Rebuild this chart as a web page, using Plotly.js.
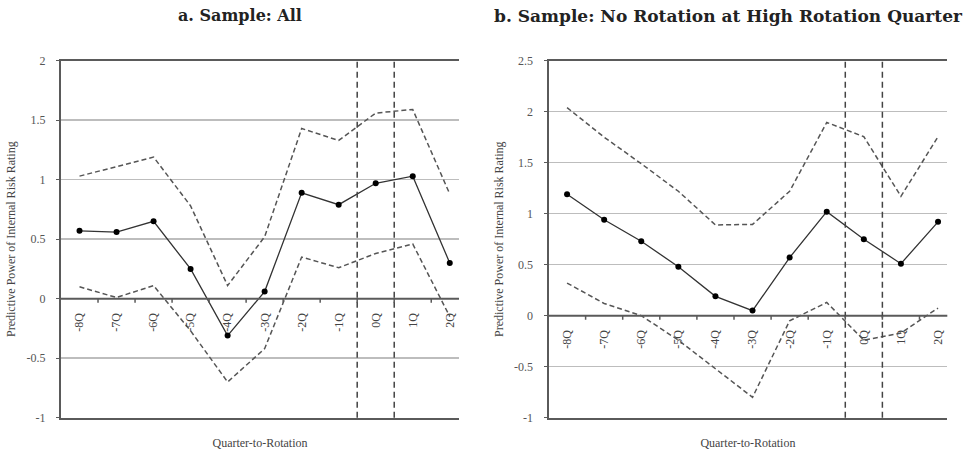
<!DOCTYPE html>
<html>
<head>
<meta charset="utf-8">
<script src="https://cdn.plot.ly/plotly-3.0.1.min.js"></script>
<style>html,body{margin:0;padding:0;background:#fff;}#chart{width:976px;height:455px;}</style>
</head>
<body>
<div id="chart"></div>
<script>
// ---- data ----
const categories = ['-8Q','-7Q','-6Q','-5Q','-4Q','-3Q','-2Q','-1Q','0Q','1Q','2Q'];
const rotationQuarter = '0Q';

const allEstimate = [0.57, 0.56, 0.65, 0.25, -0.31, 0.06, 0.89, 0.79, 0.97, 1.03, 0.30];
const allUpper    = [1.03, 1.11, 1.19, 0.78, 0.11, 0.52, 1.43, 1.33, 1.56, 1.59, 0.88];
const allLower    = [0.10, 0.01, 0.11, -0.27, -0.70, -0.42, 0.35, 0.26, 0.38, 0.46, -0.15];

const noRotEstimate = [1.19, 0.94, 0.73, 0.48, 0.19, 0.05, 0.57, 1.02, 0.75, 0.51, 0.92];
const noRotUpper    = [2.04, 1.75, 1.49, 1.22, 0.89, 0.895, 1.22, 1.895, 1.755, 1.17, 1.755];
const noRotLower    = [0.32, 0.12, 0.00, -0.24, -0.52, -0.80, -0.05, 0.13, -0.24, -0.17, 0.075];

const yTicksA = [-1, -0.5, 0, 0.5, 1, 1.5, 2];
const yTickTextA = ['-1', '-0.5', '0', '0.5', '1', '1.5', '2'];
const yTicksB = [-1, -0.5, 0, 0.5, 1, 1.5, 2, 2.5];
const yTickTextB = ['-1', '-0.5', '0', '0.5', '1', '1.5', '2', '2.5'];

const titleA = 'a. Sample: All';
const titleB = 'b. Sample: No Rotation at High Rotation Quarter';
const xTitle = 'Quarter-to-Rotation';
const yTitle = 'Predictive Power of Internal Risk Rating';

// ---- styles ----
const serif = 'Liberation Serif, Times New Roman, serif';
const axisCol = '#5a5a5a';
const gridCol = '#bdbdbd';
const bandStyle = {color: '#555', width: 1.5, dash: '5px,3px'};
const estStyle = {color: '#333', width: 1.3};
const markerStyle = {color: '#000', size: 6};

const xDomA = [0.0625, 0.4703];
const xDomB = [0.562, 0.9706];
const yDom = [0.082, 0.8666];
const xRange = [-0.5, 10.25];

function mkTraces(est, up, lo, xa, ya) {
  return [
    {x: categories, y: up, xaxis: xa, yaxis: ya, type: 'scatter', mode: 'lines', line: bandStyle, hoverinfo: 'skip'},
    {x: categories, y: lo, xaxis: xa, yaxis: ya, type: 'scatter', mode: 'lines', line: bandStyle, hoverinfo: 'skip'},
    {x: categories, y: est, xaxis: xa, yaxis: ya, type: 'scatter', mode: 'lines+markers', line: estStyle, marker: markerStyle}
  ];
}

// empty helper traces so the overlay (zero-line label) axes get registered
const axisHolders = [
  {x: [], y: [], xaxis: 'x3', yaxis: 'y', type: 'scatter', mode: 'none', hoverinfo: 'skip'},
  {x: [], y: [], xaxis: 'x4', yaxis: 'y2', type: 'scatter', mode: 'none', hoverinfo: 'skip'}
];

const data = [].concat(
  axisHolders,
  mkTraces(allEstimate, allUpper, allLower, 'x', 'y'),
  mkTraces(noRotEstimate, noRotUpper, noRotLower, 'x2', 'y2')
);

const catIdx = categories.map((c, i) => i);
const boundaries = categories.slice(1).map((c, i) => i + 0.5);
const rIdx = categories.indexOf(rotationQuarter);

function mainX(dom, ya) {
  return {
    domain: dom, anchor: ya, type: 'category', categoryorder: 'array', categoryarray: categories,
    range: xRange, showline: true, mirror: true, linecolor: axisCol, linewidth: 2,
    showgrid: false, showticklabels: false, ticks: '', zeroline: false,
    title: {text: xTitle, font: {family: serif, size: 12, color: '#444'}, standoff: 20},
    automargin: false
  };
}
function zeroPos(yRange) {
  const frac = (0 - yRange[0]) / (yRange[1] - yRange[0]);
  return yDom[0] + (yDom[1] - yDom[0]) * frac;
}
// overlay axis on the zero line carrying the quarter labels
function labelX(dom, overlay, yRange) {
  return {
    domain: dom, overlaying: overlay, anchor: 'free', position: zeroPos(yRange), side: 'bottom',
    type: 'linear', range: xRange, tickmode: 'array', tickvals: catIdx, ticktext: categories,
    tickangle: -90, ticks: '', showline: false,
    showgrid: false, zeroline: false, ticklabelstandoff: 11,
    tickfont: {family: serif, size: 12, color: '#444'}, automargin: false
  };
}
function mainY(xa, range, tv, tt) {
  return {
    domain: yDom, anchor: xa, range: range, tickmode: 'array', tickvals: tv, ticktext: tt,
    showgrid: true, gridcolor: gridCol, gridwidth: 1.5, zeroline: false,
    showline: true, linecolor: axisCol, linewidth: 2, ticks: 'outside', ticklen: 3, tickcolor: axisCol,
    ticklabelstandoff: 8,
    tickfont: {family: serif, size: 12, color: '#555'},
    title: {text: yTitle, font: {family: serif, size: 12, color: '#444'}, standoff: 8},
    automargin: false
  };
}

const yRangeA = [-1, 2];
const yRangeB = [-1, 2.5];

const vline = (xref, yref, xv) => ({type: 'line', xref: xref, yref: yref + ' domain', x0: xv, x1: xv, y0: 0, y1: 1,
  line: {color: '#444', width: 1.5, dash: '6px,4px'}});
const zeroLine = (xref, yref) => ({type: 'line', xref: xref + ' domain', yref: yref, x0: 0, x1: 1, y0: 0, y1: 0,
  layer: 'above', line: {color: axisCol, width: 2}});
const boundaryTick = (xref, yref, xv) => ({type: 'line', xref: xref, yref: yref, ysizemode: 'pixel', yanchor: 0,
  x0: xv, x1: xv, y0: 0, y1: -4, layer: 'above', line: {color: axisCol, width: 1.5}});

const shapes = [
  zeroLine('x', 'y'), zeroLine('x2', 'y2'),
  vline('x', 'y', rIdx - 0.5), vline('x', 'y', rIdx + 0.5),
  vline('x2', 'y2', rIdx - 0.5), vline('x2', 'y2', rIdx + 0.5)
].concat(boundaries.map(b => boundaryTick('x', 'y', b)), boundaries.map(b => boundaryTick('x2', 'y2', b)));

const layout = {
  width: 976, height: 455,
  margin: {l: 0, r: 0, t: 0, b: 0},
  paper_bgcolor: '#fff', plot_bgcolor: '#fff',
  showlegend: false,
  font: {family: serif},
  xaxis: mainX(xDomA, 'y'),
  xaxis2: mainX(xDomB, 'y2'),
  xaxis3: labelX(xDomA, 'x', yRangeA),
  xaxis4: labelX(xDomB, 'x2', yRangeB),
  yaxis: mainY('x', yRangeA, yTicksA, yTickTextA),
  yaxis2: mainY('x2', yRangeB, yTicksB, yTickTextB),
  shapes: shapes,
  annotations: [
    {text: '<b>' + titleA + '</b>', xref: 'paper', yref: 'paper', x: 240 / 976, y: 1 - 16 / 455, xanchor: 'center', yanchor: 'middle',
     showarrow: false, font: {family: 'DejaVu Serif', size: 16, color: '#222'}},
    {text: '<b>' + titleB + '</b>', xref: 'paper', yref: 'paper', x: 728 / 976, y: 1 - 16 / 455, xanchor: 'center', yanchor: 'middle',
     showarrow: false, font: {family: 'DejaVu Serif', size: 17, color: '#222'}}
  ]
};

Plotly.newPlot('chart', data, layout, {staticPlot: true, displayModeBar: false});
</script>
</body>
</html>
